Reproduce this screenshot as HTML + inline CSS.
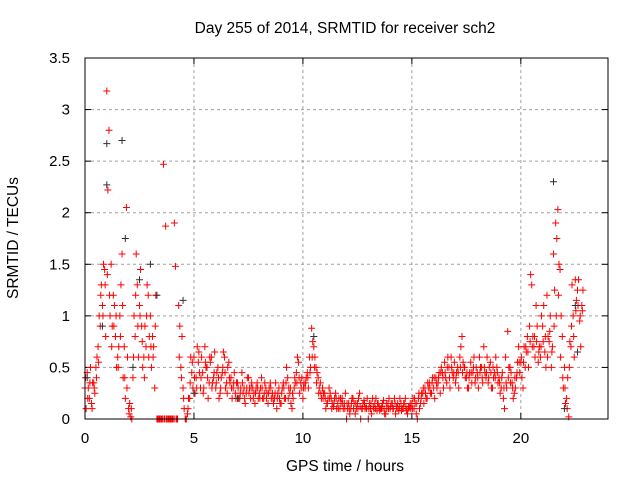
<!DOCTYPE html>
<html><head><meta charset="utf-8"><style>
body{margin:0;background:#fff}
svg{display:block;font-family:"Liberation Sans",sans-serif}
</style></head><body>
<svg id="chart" width="640" height="480" viewBox="0 0 640 480">
<text x="345" y="33" font-size="15.5" text-anchor="middle">Day 255 of 2014, SRMTID for receiver sch2</text>
<text x="345" y="471" font-size="15.5" text-anchor="middle">GPS time / hours</text>
<text transform="translate(18,238) rotate(-90)" font-size="15.5" text-anchor="middle">SRMTID / TECUs</text>
<g id="grid"></g>
<g id="ticks"></g>
<g id="red"></g>
<g id="black"></g>
<rect x="85" y="58" width="523" height="361" fill="none" stroke="#000" stroke-width="1"/>
</svg>
<script>
const xTicks=[0,5,10,15,20];
const yTicks=[0,0.5,1,1.5,2,2.5,3,3.5];
const yTickLabels=["0","0.5","1","1.5","2","2.5","3","3.5"];
const redA=[0.3,0.45,0.2,0.15,0.35,0.5,0.7,0.9,1.1,1.45,
3.18,2.8,1.5,1.2,0.8,0.6,1.0,1.6,0.7,2.05,
0.1,0.02,0.4,0.8,1.3,1.1,0.9,0.6,0.7,1.2,
1.0,0.8,0.3,0.0,0.0,0.0,2.47,1.87,0.0,0.0,
0.0,1.9,0.0,1.1,0.5,0.3,0.0,0.05,0.2,0.45,
0.6,0.4,0.55,0.3,0.45,0.7,0.5,0.35,0.6,0.4,
0.3,0.5,0.25,0.45,0.6,0.35,0.55,0.4,0.3,0.25,
0.35,0.2,0.45,0.3,0.25,0.4,0.2,0.3,0.15,0.35,
0.25,0.4,0.2,0.3,0.15,0.35,0.25,0.2,0.1,0.3,
0.15,0.35,0.2,0.4,0.25,0.1,0.3,0.45,0.55,0.35,
0.2,0.3,0.45,0.6,0.88,0.7,0.5,0.4,0.35,0.3,
0.25,0.15,0.3,0.2,0.12,0.25,0.15,0.1,0.2,0.15,
0.0,0.15,0.1,0.2,0.05,0.15,0.25,0.1,0.18,0.12,
0.0,0.1,0.2,0.15,0.08,0.12,0.1,0.18,0.05,0.15,
0.1,0.15,0.2,0.12,0.08,0.15,0.1,0.2,0.05,0.12,
0.15,0.1,0.05,0.2,0.15,0.25,0.3,0.2,0.35,0.25,
0.3,0.4,0.35,0.25,0.45,0.55,0.35,0.5,0.6,0.4,
0.35,0.5,0.6,0.8,0.5,0.4,0.3,0.55,0.45,0.35,
0.45,0.6,0.5,0.7,0.4,0.35,0.55,0.3,0.45,0.5,
0.4,0.3,0.2,0.6,0.85,0.5,0.35,0.25,0.4,0.7,
0.55,0.3,0.5,0.8,0.9,1.3,0.7,1.1,0.55,0.6,
0.9,0.65,1.2,0.75,0.5,1.6,1.9,2.03,1.45,0.8,
0.5,0.2,0.02,0.7,1.0,1.35,1.25,0.95,1.1];
const redB=[0.1,0.3,0.5,0.35,0.25,0.6,1.0,1.3,1.5,0.8,
2.22,1.0,0.9,1.1,0.5,0.7,1.3,0.4,0.2,0.6,
0.15,0.0,1.0,1.6,0.6,1.45,0.5,0.9,1.3,0.8,
0.5,0.7,1.2,0.0,0.0,0.0,0.0,0.0,0.0,0.0,
0.0,1.48,0.0,0.9,0.8,0.1,0.0,0.2,0.6,0.3,
0.25,0.7,0.45,0.6,0.3,0.5,0.2,0.55,0.35,0.65,
0.45,0.2,0.4,0.65,0.3,0.5,0.35,0.2,0.45,0.35,
0.2,0.3,0.25,0.15,0.4,0.3,0.35,0.25,0.3,0.2,
0.3,0.2,0.35,0.25,0.3,0.2,0.15,0.35,0.25,0.15,
0.3,0.2,0.5,0.3,0.15,0.2,0.35,0.6,0.25,0.4,
0.35,0.4,0.3,0.5,0.75,0.6,0.45,0.3,0.2,0.25,
0.1,0.2,0.25,0.15,0.2,0.1,0.2,0.15,0.1,0.25,
0.1,0.05,0.2,0.15,0.1,0.2,0.0,0.15,0.1,0.2,
0.15,0.05,0.1,0.2,0.15,0.1,0.15,0.05,0.1,0.2,
0.15,0.1,0.05,0.15,0.2,0.1,0.15,0.08,0.12,0.1,
0.2,0.15,0.0,0.1,0.25,0.15,0.2,0.3,0.25,0.4,
0.2,0.3,0.45,0.5,0.3,0.4,0.6,0.3,0.45,0.55,
0.45,0.3,0.7,0.55,0.4,0.3,0.45,0.35,0.6,0.5,
0.3,0.5,0.35,0.45,0.6,0.5,0.3,0.4,0.6,0.35,
0.25,0.45,0.1,0.3,0.5,0.45,0.2,0.3,0.55,0.45,
0.4,0.7,0.65,0.5,1.4,0.8,0.6,0.9,0.7,1.0,
1.1,0.5,0.8,1.0,0.7,1.25,1.75,1.5,1.0,0.3,
0.15,0.4,0.75,1.3,0.6,1.15,1.35,0.7,1.25];
const redC=[0.4,0.2,0.35,0.1,0.3,0.4,0.55,1.2,1.0,1.3,
1.4,1.2,0.7,0.9,1.0,0.5,0.8,1.1,0.4,0.3,
0.05,0.1,0.6,1.2,0.9,1.0,0.75,0.4,1.0,0.6,
0.7,0.6,0.9,0.0,0.0,0.0,0.0,0.0,0.0,0.0,
0.0,0.0,0.0,0.6,0.4,0.2,0.0,0.1,0.35,0.55,
0.4,0.3,0.65,0.4,0.25,0.55,0.4,0.6,0.3,0.45,
0.35,0.4,0.3,0.5,0.45,0.25,0.4,0.3,0.35,0.2,
0.3,0.25,0.35,0.2,0.3,0.25,0.3,0.2,0.25,0.3,
0.2,0.3,0.25,0.2,0.25,0.3,0.2,0.25,0.2,0.2,
0.25,0.3,0.35,0.2,0.3,0.25,0.4,0.35,0.4,0.3,
0.3,0.35,0.4,0.45,0.6,0.5,0.35,0.25,0.25,0.2,
0.2,0.15,0.2,0.1,0.15,0.2,0.1,0.2,0.15,0.1,
0.15,0.1,0.15,0.1,0.15,0.1,0.12,0.1,0.15,0.1,
0.1,0.15,0.12,0.1,0.15,0.08,0.12,0.1,0.15,0.1,
0.12,0.1,0.15,0.1,0.12,0.08,0.15,0.12,0.1,0.15,
0.1,0.2,0.15,0.25,0.2,0.3,0.25,0.35,0.3,0.35,
0.4,0.35,0.4,0.45,0.4,0.45,0.5,0.4,0.5,0.45,
0.4,0.45,0.5,0.45,0.5,0.45,0.4,0.45,0.5,0.4,
0.4,0.45,0.4,0.5,0.45,0.4,0.45,0.5,0.4,0.45,
0.35,0.4,0.3,0.35,0.4,0.35,0.3,0.4,0.45,0.55,
0.6,0.55,0.7,0.65,0.75,0.7,0.8,0.75,0.65,0.7,
0.75,0.8,0.6,0.85,0.65,0.9,1.0,1.2,0.6,0.4,
0.3,0.1,0.5,0.9,0.8,1.05,1.1,1.0,1.05];
const blackT=[1.0,1.0,1.7,1.85,0.8,2.5,3.0,3.3,4.5,5.0,7.0,10.5,21.5,22.0,22.5,22.6,0.1,2.2];
const blackV=[2.67,2.27,2.7,1.75,0.9,1.35,1.5,1.2,1.15,0.25,0.2,0.8,2.3,0.1,1.1,0.65,0.4,0.5];
const NS="http://www.w3.org/2000/svg";
const X0=85,X1=608,Y0=419,Y1=58,XMAX=24,YMAX=3.5;
function sx(v){return X0+(X1-X0)*v/XMAX;}
function sy(v){return Y0-(Y0-Y1)*v/YMAX;}
function mk(tag,attrs,parent){const e=document.createElementNS(NS,tag);for(const k in attrs)e.setAttribute(k,attrs[k]);parent.appendChild(e);return e;}
const grid=document.getElementById('grid'),ticks=document.getElementById('ticks');
xTicks.forEach(t=>{
  const x=sx(t);
  if(t>0){const g=mk('line',{x1:x,y1:Y1,x2:x,y2:Y0,stroke:'#a0a0a0','stroke-dasharray':'3,3'},grid);
  
  }
  mk('line',{x1:x,y1:Y0,x2:x,y2:Y0-6,stroke:'#000'},ticks);
  mk('line',{x1:x,y1:Y1,x2:x,y2:Y1+6,stroke:'#000'},ticks);
  const l=mk('text',{x:x,y:443,'font-size':15,'text-anchor':'middle'},ticks);l.textContent=t;
  
  
});
yTicks.forEach((t,i)=>{
  const y=sy(t);
  if(t>0&&t<YMAX){const g=mk('line',{x1:X0,y1:y,x2:X1,y2:y,stroke:'#a0a0a0','stroke-dasharray':'3,3'},grid);
  
  }
  mk('line',{x1:X0,y1:y,x2:X0+6,y2:y,stroke:'#000'},ticks);
  mk('line',{x1:X1,y1:y,x2:X1-6,y2:y,stroke:'#000'},ticks);
  const l=mk('text',{x:70,y:y+5,'font-size':15,'text-anchor':'end'},ticks);l.textContent=yTickLabels[i];
  
  
});
function plus(t,v,color,parent){
  const x=sx(t),y=sy(v);
  const p=mk('path',{d:`M${x-3.5},${y}H${x+3.5}M${x},${y-3.5}V${y+3.5}`,stroke:color,'stroke-width':1,fill:'none'},parent);
  
  
}
const red=document.getElementById('red'),black=document.getElementById('black');
blackT.forEach((t,i)=>plus(t,blackV[i],'#303030',black));
redA.forEach((v,i)=>plus(i*0.1,v,'#ff0000',red));
redB.forEach((v,i)=>plus(i*0.1+0.05,v,'#ff0000',red));
redC.forEach((v,i)=>plus(i*0.1+0.025,v,'#ff0000',red));
</script>
</body></html>
